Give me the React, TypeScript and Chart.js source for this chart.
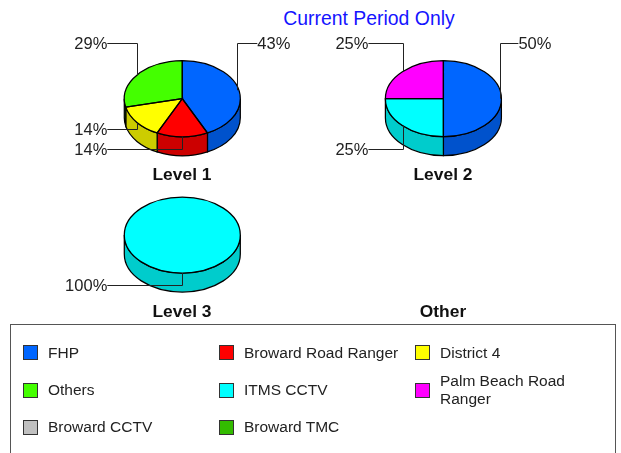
import React, { useEffect, useRef } from "react";
import { Chart, registerables } from "chart.js";

Chart.register(...registerables);

const titleText = "Current Period Only";
const seriesNames = ["FHP", "Broward Road Ranger", "District 4", "Others", "ITMS CCTV", "Palm Beach Road Ranger", "Broward CCTV", "Broward TMC"];
const seriesColors = ["#0066FF", "#FF0000", "#FFFF00", "#44FF00", "#00FFFF", "#FF00FF", "#C0C0C0", "#33BB00"];

const level1Names = ["FHP", "Broward Road Ranger", "District 4", "Others"];
const level1Values = [3, 1, 1, 2];
const level2Names = ["FHP", "ITMS CCTV", "Palm Beach Road Ranger"];
const level2Values = [2, 1, 1];
const level3Names = ["ITMS CCTV"];
const level3Values = [1];

const FONT = "'Liberation Sans', Arial, sans-serif";
const W = 621;
const H = 453;
const RX = 58;
const RY = 38;
const DEPTH = 19;
const STROKE = 1.25;

const pies = [
  { name: "Level 1", names: level1Names, values: level1Values, cx: 182.3, cy: 98.7, leaderY: [43, 149, 129, 43] },
  { name: "Level 2", names: level2Names, values: level2Values, cx: 443.4, cy: 98.7, leaderY: [43, 149, 43] },
  { name: "Level 3", names: level3Names, values: level3Values, cx: 182.3, cy: 235, leaderY: [285] },
];

const titles = [
  { text: "Level 1", x: 182, y: 174 },
  { text: "Level 2", x: 443, y: 174 },
  { text: "Level 3", x: 182, y: 311 },
  { text: "Other", x: 443, y: 311 },
];

const legendCols = [23, 219, 415];
const legendRows = [352.5, 390, 427];

function darken(hex: string) {
  const n = parseInt(hex.slice(1), 16);
  const f = 0.8;
  const r = Math.round(((n >> 16) & 255) * f);
  const g = Math.round(((n >> 8) & 255) * f);
  const b = Math.round((n & 255) * f);
  return `rgb(${r},${g},${b})`;
}

const pie3d = {
  id: "pie3d",
  beforeDatasetsDraw(chart: any) {
    const ctx = chart.ctx;
    const arcs = chart.getDatasetMeta(0).data;
    const cols = chart.data.datasets[0].backgroundColor;
    arcs.forEach((a: any, i: number) => {
      const s = Math.max(a.startAngle, 0);
      const e = Math.min(a.endAngle, Math.PI);
      if (e <= s) return;
      ctx.save();
      ctx.beginPath();
      ctx.ellipse(a.x, a.y, RX, RY, 0, s, e);
      ctx.ellipse(a.x, a.y + DEPTH, RX, RY, 0, e, s, true);
      ctx.closePath();
      ctx.fillStyle = darken(cols[i]);
      ctx.fill();
      ctx.strokeStyle = "#000";
      ctx.lineWidth = STROKE;
      ctx.stroke();
      ctx.restore();
    });
  },
  beforeDatasetDraw(chart: any) {
    const ctx = chart.ctx;
    const a = chart.getDatasetMeta(0).data[0];
    ctx.save();
    ctx.translate(a.x, a.y);
    ctx.scale(1, RY / RX);
    ctx.translate(-a.x, -a.y);
  },
  afterDatasetDraw(chart: any) {
    chart.ctx.restore();
  },
  afterDatasetsDraw(chart: any, _a: any, o: any) {
    const ctx = chart.ctx;
    const arcs = chart.getDatasetMeta(0).data;
    const values = chart.data.datasets[0].data;
    const total = values.reduce((p: number, c: number) => p + c, 0);
    ctx.save();
    ctx.strokeStyle = "#000";
    ctx.lineWidth = STROKE;
    arcs.forEach((a: any) => {
      const full = a.endAngle - a.startAngle >= Math.PI * 2 - 1e-6;
      ctx.beginPath();
      if (full) {
        ctx.ellipse(a.x, a.y, RX, RY, 0, 0, Math.PI * 2);
      } else {
        ctx.moveTo(a.x, a.y);
        ctx.ellipse(a.x, a.y, RX, RY, 0, a.startAngle, a.endAngle);
        ctx.closePath();
      }
      ctx.stroke();
    });
    arcs.forEach((a: any, i: number) => {
      const mid = (a.startAngle + a.endAngle) / 2;
      const px = a.x + (RX - 1) * Math.cos(mid);
      const py = a.y + RY * Math.sin(mid);
      const ly = o.leaderY[i] + 0.5;
      const right = px > a.x + 1;
      const ex = Math.floor(px) + 0.5;
      const tx = right ? a.x + 75 : a.x - 75;
      ctx.beginPath();
      ctx.strokeStyle = "#222";
      ctx.lineWidth = 1;
      ctx.moveTo(ex, py);
      ctx.lineTo(ex, ly);
      ctx.lineTo(tx, ly);
      ctx.stroke();
      ctx.fillStyle = "#222";
      ctx.font = `16.5px ${FONT}`;
      ctx.textBaseline = "middle";
      ctx.textAlign = right ? "left" : "right";
      ctx.fillText(`${Math.round((values[i] / total) * 100)}%`, tx, ly + 0.5);
    });
    ctx.restore();
  },
};

function Pie({ spec }: { spec: (typeof pies)[number] }) {
  const ref = useRef<HTMLCanvasElement>(null);
  useEffect(() => {
    const chart = new Chart(ref.current!, {
      type: "pie",
      data: {
        labels: spec.names,
        datasets: [
          {
            data: spec.values,
            backgroundColor: spec.names.map((n) => seriesColors[seriesNames.indexOf(n)]),
            borderWidth: 0,
          },
        ],
      },
      options: {
        responsive: false,
        animation: false,
        devicePixelRatio: 1,
        events: [],
        layout: {
          padding: {
            left: spec.cx - RX,
            right: W - spec.cx - RX,
            top: spec.cy - RX,
            bottom: H - spec.cy - RX,
          },
        },
        plugins: {
          legend: { display: false },
          tooltip: { enabled: false },
          title: { display: false },
          pie3d: { leaderY: spec.leaderY },
        },
      } as any,
      plugins: [pie3d],
    });
    return () => chart.destroy();
  }, [spec]);
  return <canvas ref={ref} width={W} height={H} style={{ position: "absolute", left: 0, top: 0, width: W, height: H }} />;
}

export default function App() {
  return (
    <div style={{ position: "fixed", left: 0, top: 0, width: W, height: H, overflow: "hidden", background: "#fff", fontFamily: FONT, color: "#000" }}>
      <div style={{ position: "absolute", left: 0, width: 738, top: 7, textAlign: "center", fontSize: 19.4, lineHeight: "22px", color: "#1414FF", whiteSpace: "nowrap" }}>{titleText}</div>
      {pies.map((p) => (
        <Pie key={p.name} spec={p} />
      ))}
      {titles.map((t) => (
        <div key={t.text} style={{ position: "absolute", left: t.x - 60, width: 120, top: t.y - 10, lineHeight: "20px", textAlign: "center", fontSize: 17.4, fontWeight: 700, color: "#111" }}>{t.text}</div>
      ))}
      <div style={{ position: "absolute", left: 10, top: 324, width: 606, height: 140, border: "1px solid #555", boxSizing: "border-box" }} />
      {seriesNames.map((n, i) => {
        const col = legendCols[i % 3];
        const y = legendRows[Math.floor(i / 3)];
        return (
          <React.Fragment key={n}>
            <div style={{ position: "absolute", left: col, top: y - 7.5, width: 15, height: 15, boxSizing: "border-box", background: seriesColors[i], border: "1px solid #333" }} />
            <div style={{ position: "absolute", left: col + 25, top: y - 30, height: 60, width: 160, display: "flex", alignItems: "center", fontSize: 15.5, lineHeight: "18px", color: "#222" }}>{n}</div>
          </React.Fragment>
        );
      })}
    </div>
  );
}
